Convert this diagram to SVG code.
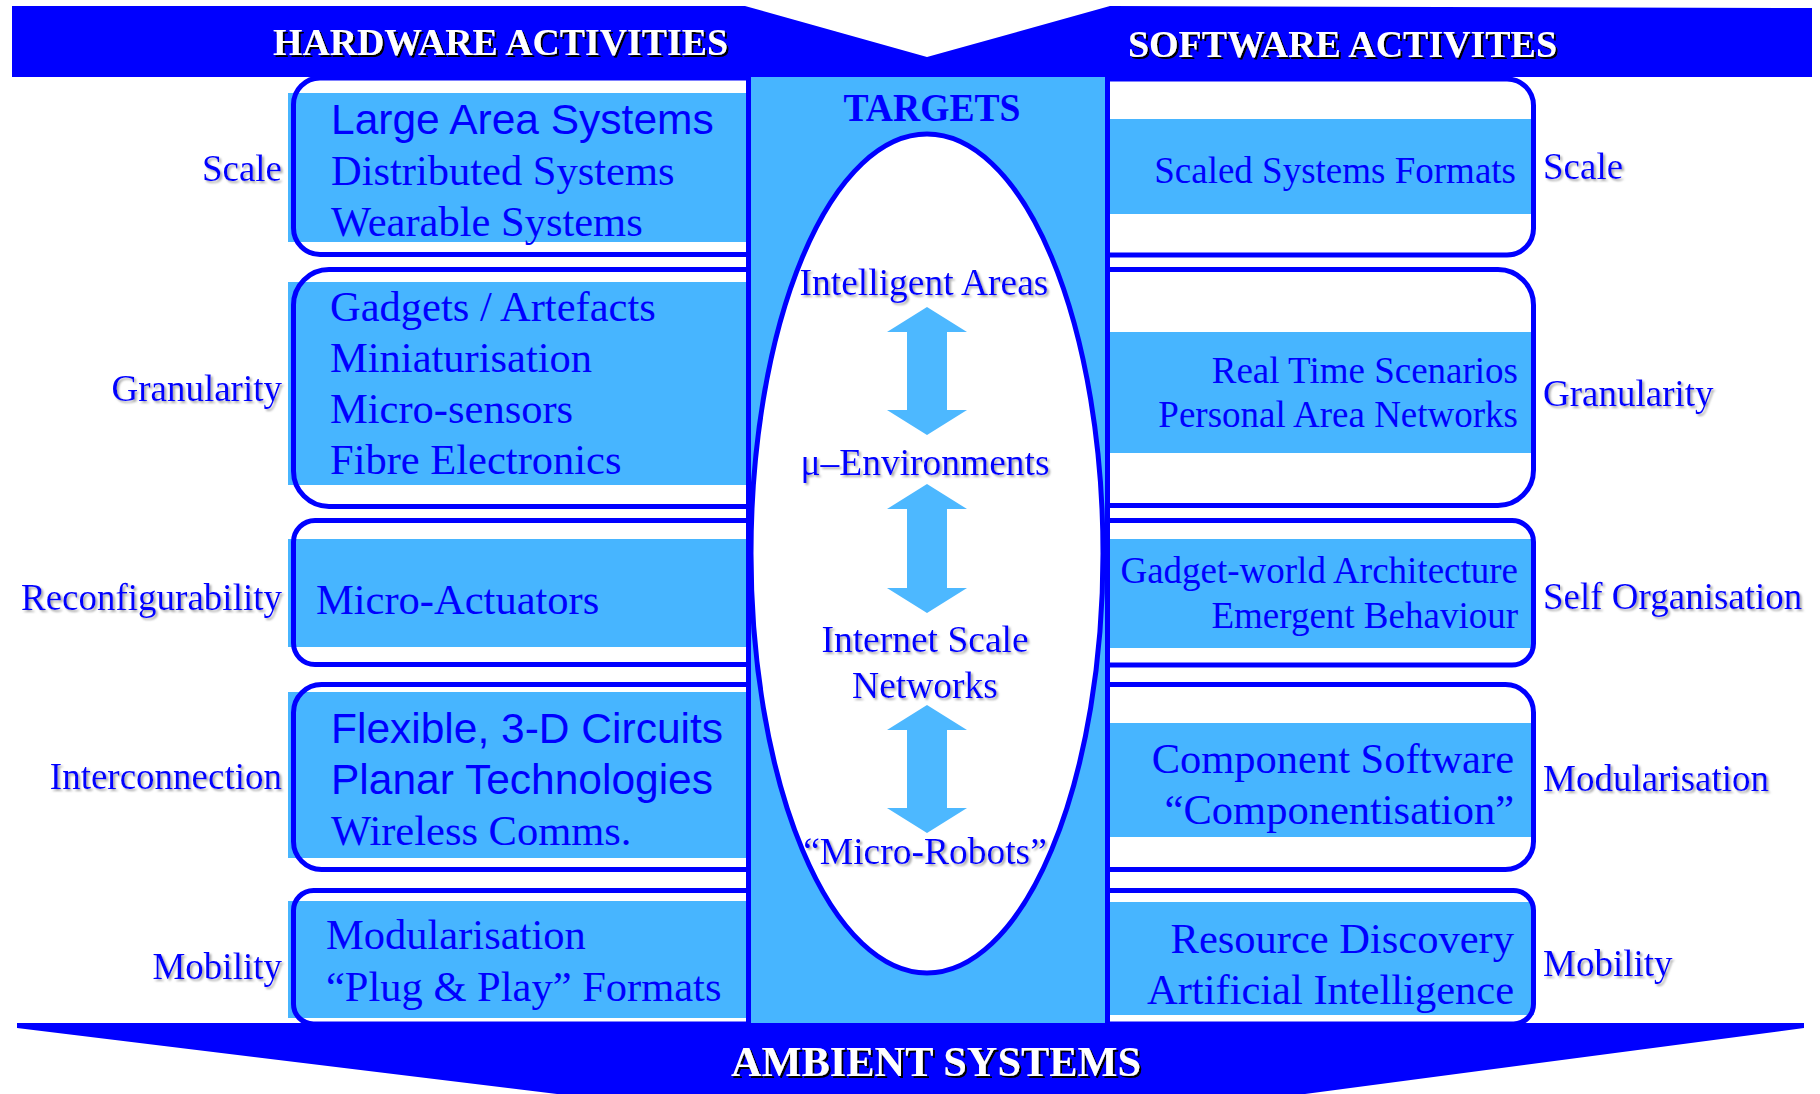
<svg xmlns="http://www.w3.org/2000/svg" width="1820" height="1094" viewBox="0 0 1820 1094">
<defs>
<filter id="shGray" x="-10%" y="-30%" width="120%" height="160%">
<feDropShadow dx="2" dy="2" stdDeviation="0.8" flood-color="#8a8a8a" flood-opacity="0.75"/>
</filter>
<filter id="shBlack" x="-10%" y="-30%" width="120%" height="160%">
<feDropShadow dx="2" dy="2" stdDeviation="0.3" flood-color="#000000" flood-opacity="1"/>
</filter>
</defs>
<style>
.band{fill:#47B5FF;}
.box{fill:none;stroke:#0000FF;stroke-width:5;}
.serif{font-family:"Liberation Serif","Times New Roman",serif;fill:#0000FF;}
.sans{font-family:"Liberation Sans",Arial,sans-serif;fill:#0000FF;}
.item{font-size:42.5px;}
.item2{font-size:37px;}
.lab{font-size:37px;filter:url(#shGray);}
.lab-l{text-anchor:end;}
.sw{text-anchor:end;}
.title{font-family:"Liberation Serif","Times New Roman",serif;font-weight:bold;fill:#FFFFFF;filter:url(#shBlack);}
.ctr{font-size:37.5px;text-anchor:middle;filter:url(#shGray);}
.arrow{fill:#4DB8FF;}
.banner{fill:#0000FF;}
</style>
<rect x="0" y="0" width="1820" height="1094" fill="#FFFFFF"/>

<g id="hw-scale">
<rect class="band" x="288" y="93" width="458" height="149"/>
<path class="box" d="M748 78 H320 A26.5 26.5 0 0 0 293.5 104.5 V228 A26.5 26.5 0 0 0 320 254.5 H748"/>
<text class="sans item" x="331" y="134">Large Area Systems</text>
<text class="serif item" x="331" y="185">Distributed Systems</text>
<text class="serif item" x="331" y="236">Wearable Systems</text>
<text class="serif lab lab-l" x="282" y="181">Scale</text>
</g>

<g id="hw-granularity">
<rect class="band" x="288" y="282" width="458" height="203"/>
<path class="box" d="M748 269.5 H329 A35.5 35.5 0 0 0 293.5 305 V471 A35.5 35.5 0 0 0 329 506.5 H748"/>
<text class="serif item" x="330" y="321">Gadgets / Artefacts</text>
<text class="serif item" x="330" y="372">Miniaturisation</text>
<text class="serif item" x="330" y="423">Micro-sensors</text>
<text class="serif item" x="330" y="474">Fibre Electronics</text>
<text class="serif lab lab-l" x="282" y="401">Granularity</text>
</g>

<g id="hw-reconfigurability">
<rect class="band" x="288" y="539" width="458" height="108"/>
<path class="box" d="M748 520.5 H315 A21.5 21.5 0 0 0 293.5 542 V643 A21.5 21.5 0 0 0 315 664.5 H748"/>
<text class="serif item" x="316" y="614">Micro-Actuators</text>
<text class="serif lab lab-l" x="282" y="610">Reconfigurability</text>
</g>

<g id="hw-interconnection">
<rect class="band" x="288" y="692" width="458" height="166"/>
<path class="box" d="M748 684.5 H321.5 A28 28 0 0 0 293.5 712.5 V841.5 A28 28 0 0 0 321.5 869.5 H748"/>
<text class="sans item" x="331" y="743">Flexible, 3-D Circuits</text>
<text class="sans item" x="331" y="794">Planar Technologies</text>
<text class="serif item" x="331" y="845">Wireless Comms.</text>
<text class="serif lab lab-l" x="282" y="789">Interconnection</text>
</g>

<g id="hw-mobility">
<rect class="band" x="288" y="901" width="458" height="117"/>
<path class="box" d="M748 890.5 H313.5 A20 20 0 0 0 293.5 910.5 V1004 A20 20 0 0 0 313.5 1024 H748"/>
<text class="serif item" x="326" y="949">Modularisation</text>
<text class="serif item" x="326" y="1001">“Plug &amp; Play” Formats</text>
<text class="serif lab lab-l" x="282" y="979">Mobility</text>
</g>

<g id="sw-scale">
<rect class="band" x="1109" y="119" width="425" height="95"/>
<path class="box" d="M1107 79 H1507 A26.5 26.5 0 0 1 1533.5 105.5 V228.5 A26.5 26.5 0 0 1 1507 255 H1107"/>
<text class="serif item2 sw" x="1516" y="183">Scaled Systems Formats</text>
<text class="serif lab" x="1543" y="179">Scale</text>
</g>

<g id="sw-granularity">
<rect class="band" x="1109" y="332" width="425" height="121"/>
<path class="box" d="M1107 269.5 H1498 A35.5 35.5 0 0 1 1533.5 305 V470 A35.5 35.5 0 0 1 1498 505.5 H1107"/>
<text class="serif item2 sw" x="1518" y="383">Real Time Scenarios</text>
<text class="serif item2 sw" x="1518" y="427">Personal Area Networks</text>
<text class="serif lab" x="1543" y="406">Granularity</text>
</g>

<g id="sw-self-organisation">
<rect class="band" x="1109" y="539" width="425" height="109"/>
<path class="box" d="M1107 520.5 H1512 A21.5 21.5 0 0 1 1533.5 542 V643.5 A21.5 21.5 0 0 1 1512 665 H1107"/>
<text class="serif item2 sw" x="1518" y="583">Gadget-world Architecture</text>
<text class="serif item2 sw" x="1518" y="628">Emergent Behaviour</text>
<text class="serif lab" x="1543" y="609">Self Organisation</text>
</g>

<g id="sw-modularisation">
<rect class="band" x="1109" y="723" width="425" height="114"/>
<path class="box" d="M1107 684.5 H1505.5 A28 28 0 0 1 1533.5 712.5 V841.5 A28 28 0 0 1 1505.5 869.5 H1107"/>
<text class="serif item sw" x="1514" y="773">Component Software</text>
<text class="serif item sw" x="1514" y="824">“Componentisation”</text>
<text class="serif lab" x="1543" y="791">Modularisation</text>
</g>

<g id="sw-mobility">
<rect class="band" x="1109" y="902" width="425" height="113"/>
<path class="box" d="M1107 890.5 H1513.5 A20 20 0 0 1 1533.5 910.5 V1004 A20 20 0 0 1 1513.5 1024 H1107"/>
<text class="serif item sw" x="1514" y="953">Resource Discovery</text>
<text class="serif item sw" x="1514" y="1004">Artificial Intelligence</text>
<text class="serif lab" x="1543" y="976">Mobility</text>
</g>

<g id="targets">
<rect x="748" y="77" width="359" height="946" fill="#47B5FF"/>
<ellipse cx="927" cy="553.5" rx="176" ry="419.5" fill="#FFFFFF" stroke="#0000FF" stroke-width="5"/>
<line x1="748.5" y1="77" x2="748.5" y2="1023" stroke="#0000FF" stroke-width="5"/>
<line x1="1107.5" y1="77" x2="1107.5" y2="1023" stroke="#0000FF" stroke-width="5"/>
<text class="serif" x="932" y="121" font-size="41" font-weight="bold" text-anchor="middle" textLength="177" lengthAdjust="spacingAndGlyphs">TARGETS</text>
<text class="serif ctr" x="924" y="295">Intelligent Areas</text>
<text class="serif ctr" x="925" y="475">μ–Environments</text>
<text class="serif ctr" x="925" y="652">Internet Scale</text>
<text class="serif ctr" x="925" y="698">Networks</text>
<text class="serif ctr" x="925" y="864">“Micro-Robots”</text>
</g>

<g id="connectors">
<polygon class="arrow" points="927,307 967,332 947,332 947,410 967,410 927,435 887,410 907,410 907,332 887,332"/>
<polygon class="arrow" points="927,484 967,509 947,509 947,588 967,588 927,613 887,588 907,588 907,509 887,509"/>
<polygon class="arrow" points="927,705 967,730 947,730 947,808 967,808 927,833 887,808 907,808 907,730 887,730"/>
</g>

<g id="hardware-software-banner">
<polygon class="banner" points="12,6 745,6 927,57 1110,6 1812,8 1812,77 12,77"/>
<text class="title" x="273" y="55" font-size="37.5" textLength="455" lengthAdjust="spacingAndGlyphs">HARDWARE ACTIVITIES</text>
<text class="title" x="1128" y="57" font-size="37.5" textLength="429" lengthAdjust="spacingAndGlyphs">SOFTWARE ACTIVITES</text>
</g>

<g id="ambient-banner">
<polygon class="banner" points="17,1023 1804,1023 1804,1028 1305,1094 557,1094 17,1028"/>
<text class="title" x="731" y="1076" font-size="42" textLength="410" lengthAdjust="spacingAndGlyphs">AMBIENT SYSTEMS</text>
</g>
</svg>
